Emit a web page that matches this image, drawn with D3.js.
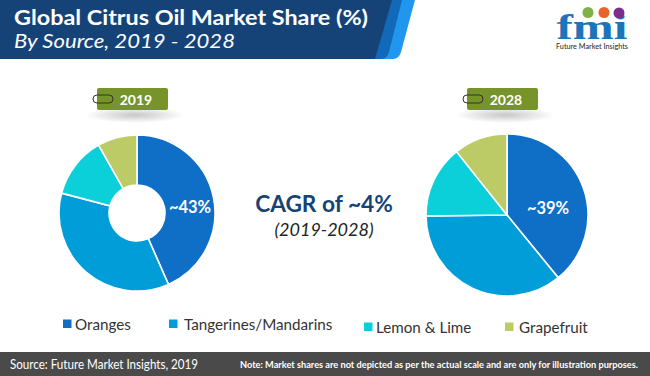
<!DOCTYPE html>
<html>
<head>
<meta charset="utf-8">
<script src="https://cdn.jsdelivr.net/npm/d3@7"></script>
<style>
  html, body { margin: 0; padding: 0; background: #fff; }
  svg { display: block; }
  text { font-family: Lato, "Open Sans", sans-serif; }
</style>
</head>
<body>
<div id="chart"></div>
<script>
const sources = ["Oranges", "Tangerines/Mandarins", "Lemon & Lime", "Grapefruit"];
const colors = ["#0f6fc6", "#009dd9", "#0bd0d9", "#bdcb66"];
const share2019 = [43.4, 35.7, 12.7, 8.2];
const share2028 = [39.1, 35.7, 14.5, 10.7];

const width = 650, height = 376;

const svg = d3.select("#chart").append("svg")
    .attr("width", width)
    .attr("height", height)
    .attr("viewBox", [0, 0, width, height]);

const defs = svg.append("defs");

// Soft shadow under the year tabs.
const shadow = defs.append("radialGradient").attr("id", "tabShadow");
shadow.append("stop").attr("offset", "0%").attr("stop-color", "#000").attr("stop-opacity", 0.22);
shadow.append("stop").attr("offset", "100%").attr("stop-color", "#000").attr("stop-opacity", 0);

// Header banner.
svg.append("path").attr("fill", "#2196ee")
    .attr("d", "M392,0 L415,0 L401,52 Q399,59 393,59 L375,59 Z");
svg.append("path").attr("fill", "#1269b8")
    .attr("d", "M385,0 L402,0 L389,52 Q387,59 381,59 L372,59 Z");
svg.append("path").attr("fill", "#164377")
    .attr("d", "M0,0 L392,0 L375,59 L0,59 Z");

svg.append("text").attr("x", 14).attr("y", 25)
    .attr("font-size", 21).attr("font-weight", 700).attr("fill", "#fff")
    .attr("textLength", 354).attr("lengthAdjust", "spacingAndGlyphs")
    .text("Global Citrus Oil Market Share (%)");
svg.append("text").attr("x", 14).attr("y", 48)
    .attr("font-size", 20).attr("font-style", "italic").attr("fill", "#fff")
    .attr("textLength", 221).attr("lengthAdjust", "spacingAndGlyphs")
    .text("By Source, 2019 - 2028");

// Logo.
const logo = svg.append("g");
logo.append("text").attr("x", 592).attr("y", 39).attr("text-anchor", "middle")
    .style("font-family", "'Liberation Serif', serif")
    .attr("font-size", 36).attr("font-weight", 700).attr("fill", "#1b75bb")
    .attr("textLength", 71).attr("lengthAdjust", "spacingAndGlyphs")
    .text("fmi");
logo.selectAll("circle")
    .data([[588, 12.5, "#7cb342"], [604, 12.5, "#e8622c"], [619, 13, "#7b2d8e"]])
    .join("circle")
    .attr("cx", d => d[0]).attr("cy", d => d[1]).attr("r", 5.5)
    .attr("fill", d => d[2]);
logo.append("text").attr("x", 592).attr("y", 49).attr("text-anchor", "middle")
    .attr("font-size", 8).attr("font-weight", 500).attr("fill", "#333")
    .attr("textLength", 72).attr("lengthAdjust", "spacingAndGlyphs")
    .text("Future Market Insights");

// Donut for 2019, plain pie for 2028.
const charts = [
    {year: "2019", values: share2019, cx: 137, cy: 213, r: 78, inner: 28, tabX: 97, label: "~43%", labelX: 190, labelY: 207},
    {year: "2028", values: share2028, cx: 507, cy: 215, r: 81, inner: 0, tabX: 467, label: "~39%", labelX: 548, labelY: 208}
];

const pie = d3.pie().sort(null);

charts.forEach(c => {
    const arc = d3.arc().innerRadius(c.inner).outerRadius(c.r);
    const g = svg.append("g").attr("transform", `translate(${c.cx},${c.cy})`);
    g.selectAll("path")
        .data(pie(c.values))
        .join("path")
        .attr("d", arc)
        .attr("fill", (d, i) => colors[i])
        .attr("stroke", "#fff")
        .attr("stroke-width", 1.6);

    svg.append("text")
        .attr("x", c.labelX).attr("y", c.labelY)
        .attr("text-anchor", "middle").attr("dominant-baseline", "central")
        .attr("font-size", 16.5).attr("font-weight", 700).attr("fill", "#fff")
        .text(c.label);

    // Year tab with its paper clip.
    const tab = svg.append("g").attr("transform", `translate(${c.tabX},88)`);
    tab.append("ellipse").attr("cx", 38).attr("cy", 27).attr("rx", 50).attr("ry", 8)
        .attr("fill", "url(#tabShadow)");
    tab.append("rect").attr("width", 71).attr("height", 22).attr("rx", 2)
        .attr("fill", "#76942a");
    tab.append("rect").attr("x", -4).attr("y", 7).attr("width", 20).attr("height", 8).attr("rx", 4)
        .attr("fill", "none").attr("stroke", "#333").attr("stroke-width", 1);
    tab.append("text").attr("x", 39).attr("y", 11)
        .attr("text-anchor", "middle").attr("dominant-baseline", "central")
        .attr("font-size", 14).attr("font-weight", 700).attr("fill", "#fff")
        .text(c.year);
});

// Centre note.
svg.append("text").attr("x", 324).attr("y", 212).attr("text-anchor", "middle")
    .attr("font-size", 22.7).attr("font-weight", 700).attr("fill", "#164377")
    .text("CAGR of ~4%");
svg.append("text").attr("x", 324).attr("y", 236).attr("text-anchor", "middle")
    .attr("font-size", 18).attr("font-style", "italic").attr("fill", "#222")
    .text("(2019-2028)");

// Legend.
const legendX = [63, 169, 364, 505];
const legendY = [324, 324, 327, 327];
const legendGap = [12, 15, 12, 14];
const legend = svg.selectAll("g.legend")
    .data(sources)
    .join("g")
    .attr("class", "legend")
    .attr("transform", (d, i) => `translate(${legendX[i]},${legendY[i]})`);
legend.append("rect").attr("x", 0).attr("y", -4.5).attr("width", 8.5).attr("height", 8.5)
    .attr("fill", (d, i) => colors[i]);
legend.append("text").attr("x", (d, i) => legendGap[i]).attr("y", 0)
    .attr("dominant-baseline", "central")
    .attr("font-size", 15.2).attr("fill", "#333")
    .text(d => d);

// Footer.
svg.append("rect").attr("x", 0).attr("y", 352).attr("width", width).attr("height", 24)
    .attr("fill", "#4b4a4b");
svg.append("text").attr("x", 10).attr("y", 364)
    .attr("dominant-baseline", "central")
    .attr("font-size", 12.5).attr("fill", "#fff")
    .attr("textLength", 188).attr("lengthAdjust", "spacingAndGlyphs")
    .text("Source: Future Market Insights, 2019");
svg.append("text").attr("x", 240).attr("y", 364)
    .attr("dominant-baseline", "central")
    .attr("font-size", 9.5).attr("font-weight", 700).attr("fill", "#fff")
    .attr("textLength", 398).attr("lengthAdjust", "spacingAndGlyphs")
    .text("Note: Market shares are not depicted as per the actual scale and are only for illustration purposes.");
</script>
</body>
</html>
